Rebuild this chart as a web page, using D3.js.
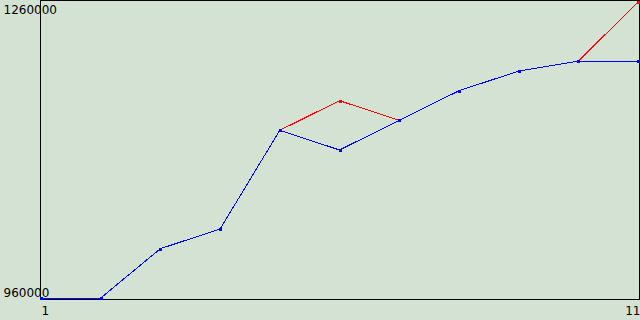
<!DOCTYPE html>
<html>
<head>
<meta charset="utf-8">
<script src="https://cdn.jsdelivr.net/npm/d3@7"></script>
<style>
  body { margin: 0; background: #d4e2d4; }
  svg { display: block; }
</style>
</head>
<body>
<div id="chart"></div>
<script>
// Chart data
var xValues = [1, 2, 3, 4, 5, 6, 7, 8, 9, 10, 11];
var blueValues = [960000, 960000, 1010000, 1030000, 1130000, 1110000, 1140000, 1170000, 1190000, 1200000, 1200000];
var redValues = [960000, 960000, 1010000, 1030000, 1130000, 1160000, 1140000, 1170000, 1190000, 1200000, 1260000];
var xTicks = [1, 11];
var yTicks = [960000, 1260000];

var width = 640, height = 320;
var labelFont = "'DejaVu Sans', sans-serif";

var svg = d3.select("#chart")
    .append("svg")
    .attr("width", width)
    .attr("height", height);

// Scales
var x = d3.scaleLinear().domain([1, 11]).range([41, 638]);
var y = d3.scaleLinear().domain([960000, 1260000]).range([298, 2]);

// Plot frame
svg.append("rect")
    .attr("x", 40.5)
    .attr("y", 0.5)
    .attr("width", 599)
    .attr("height", 299)
    .attr("fill", "#d4e2d4")
    .attr("stroke", "#000")
    .attr("shape-rendering", "crispEdges");

// Y axis labels
var yAxis = svg.append("g")
    .attr("transform", "translate(40,0)")
    .call(d3.axisLeft(y).tickValues(yTicks).tickSize(0).tickFormat(d3.format("d")));
yAxis.select(".domain").remove();
yAxis.selectAll("text")
    .attr("x", -36.5)
    .attr("dy", null)
    .attr("y", function (d) { return d === 1260000 ? 11 : -2; })
    .attr("text-anchor", "start")
    .attr("fill", "#000")
    .style("font-family", labelFont)
    .style("font-size", "12px");

// X axis labels
var xAxis = svg.append("g")
    .attr("transform", "translate(0,299)")
    .call(d3.axisBottom(x).tickValues(xTicks).tickSize(0).tickFormat(d3.format("d")));
xAxis.select(".domain").remove();
xAxis.selectAll("text")
    .attr("dy", null)
    .attr("y", 16)
    .attr("text-anchor", function (d) { return d === 1 ? "start" : "end"; })
    .attr("x", function (d) { return d === 1 ? 0 : 2; })
    .attr("fill", "#000")
    .style("font-family", labelFont)
    .style("font-size", "12px");

// Draw one series: line plus small square markers
function drawSeries(values, color) {
    var pts = xValues.map(function (d, i) { return [d, values[i]]; });
    svg.append("path")
        .datum(pts)
        .attr("fill", "none")
        .attr("stroke", color)
        .attr("stroke-width", 1)
        .attr("shape-rendering", "crispEdges")
        .attr("d", d3.line()
            .x(function (d) { return x(d[0]); })
            .y(function (d) { return y(d[1]); }));
    svg.append("g").selectAll("rect")
        .data(pts)
        .enter().append("rect")
        .attr("x", function (d) { return Math.round(x(d[0])) - 1; })
        .attr("y", function (d) { return Math.round(y(d[1])) - 1; })
        .attr("width", 3)
        .attr("height", 3)
        .attr("fill", color)
        .attr("shape-rendering", "crispEdges");
}

drawSeries(redValues, "#ff0000");
drawSeries(blueValues, "#0000ff");
</script>
</body>
</html>
